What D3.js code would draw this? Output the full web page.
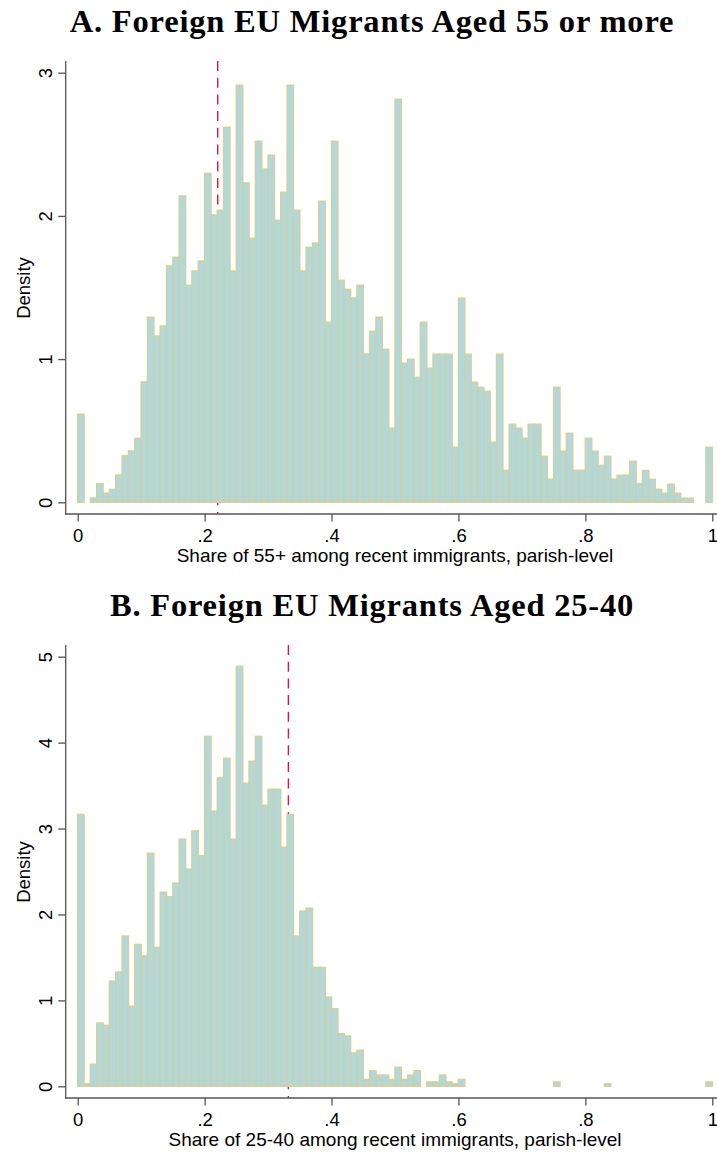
<!DOCTYPE html>
<html>
<head>
<meta charset="utf-8">
<script src="https://cdn.jsdelivr.net/npm/d3@7"></script>
<style>
  body { margin: 0; background: #ffffff; }
  svg { display: block; }
</style>
</head>
<body>
<div id="chart"></div>
<script>
// histogram densities, bins of width 0.01 from 0 to 1
var densityOld = [
  0.615, 0, 0.03, 0.13, 0.063, 0.09, 0.19, 0.325, 0.358, 0.447,
  0.84, 1.292, 1.161, 1.231, 1.65, 1.711, 2.139, 1.515, 1.615, 1.685,
  2.297, 2.006, 2.039, 2.619, 1.615, 2.912, 2.23, 1.843, 2.521, 2.327,
  2.423, 1.969, 2.165, 2.912, 2.039, 1.615, 1.78, 1.81, 2.102, 1.257,
  2.521, 1.55, 1.487, 1.427, 1.515, 1.036, 1.194, 1.292, 1.068, 0.517,
  2.814, 0.971, 0.999, 0.873, 1.257, 0.936, 1.034, 1.034, 1.034, 0.384,
  1.425, 1.034, 0.838, 0.803, 0.775, 0.419, 1.034, 0.223, 0.545, 0.517,
  0.447, 0.545, 0.545, 0.321, 0.161, 0.803, 0.356, 0.482, 0.223, 0.223,
  0.447, 0.356, 0.258, 0.321, 0.161, 0.189, 0.189, 0.286, 0.13, 0.222,
  0.16, 0.09, 0.063, 0.126, 0.063, 0.028, 0.028, 0, 0, 0.384
];
var densityYoung = [
  3.163, 0.03, 0.256, 0.736, 0.709, 1.224, 1.329, 1.748, 0.93, 1.651,
  1.519, 2.713, 1.616, 2.259, 2.205, 2.364, 2.876, 2.527, 2.972, 2.682,
  4.073, 3.201, 3.589, 3.817, 2.876, 4.887, 3.527, 3.783, 4.073, 3.271,
  3.457, 3.457, 2.783, 3.163, 1.748, 2.038, 2.073, 1.383, 1.383, 1.038,
  0.903, 0.612, 0.585, 0.387, 0.419, 0.08, 0.18, 0.13, 0.13, 0.08,
  0.22, 0.08, 0.13, 0.18, 0, 0.05, 0.05, 0.13, 0.05, 0.03,
  0.08, 0, 0, 0, 0, 0, 0, 0, 0, 0,
  0, 0, 0, 0, 0, 0.05, 0, 0, 0, 0,
  0, 0, 0, 0.03, 0, 0, 0, 0, 0, 0,
  0, 0, 0, 0, 0, 0, 0, 0, 0, 0.05
];
var binWidth = 0.01;

// dashed reference lines
var refOld = 0.2206;
var refYoung = 0.332;

var xTicks = [0, 0.2, 0.4, 0.6, 0.8, 1];
var xTickLabels = ['0', '.2', '.4', '.6', '.8', '1'];
var yTicksOld = [0, 1, 2, 3];
var yTicksYoung = [0, 1, 2, 3, 4, 5];

var titles = ['A. Foreign EU Migrants Aged 55 or more', 'B. Foreign EU Migrants Aged 25-40'];
var xTitles = ['Share of 55+ among recent immigrants, parish-level',
               'Share of 25-40 among recent immigrants, parish-level'];
var yTitle = 'Density';

var width = 717;
var height = 1152;
var panelShift = 584;

var fillColor = '#b0d8df';
var lineColor = '#d4cf9b';
var refColor = '#d0184a';
var axisColor = '#555555';
var sansFont = '"Liberation Sans", Arial, Helvetica, sans-serif';
var serifFont = '"Liberation Serif", "Times New Roman", serif';

var svg = d3.select('#chart')
  .append('svg')
  .attr('width', width)
  .attr('height', height)
  .style('background-color', '#ffffff');

// same x scale for both panels
var x = d3.scaleLinear().domain([0, 1]).range([77.7, 712.3]);

function drawPanel(offset, density, yMax, yTicks, refValue, title, xTitle) {
  var g = svg.append('g').attr('transform', 'translate(0,' + offset + ')');

  // 0 sits 12px above the axis line, like Stata's plot margin
  var y = d3.scaleLinear().domain([0, yMax]).range([502.3, 72.7]);

  // title
  g.append('text')
    .attr('x', 372)
    .attr('y', 31.7)
    .attr('text-anchor', 'middle')
    .style('font-family', serifFont)
    .style('font-weight', 'bold')
    .style('font-size', '32.5px')
    .style('letter-spacing', '0.8px')
    .style('fill', '#000')
    .text(title);

  // reference line goes under the bars
  g.append('line')
    .attr('x1', x(refValue)).attr('x2', x(refValue))
    .attr('y1', 61).attr('y2', 514)
    .attr('stroke', refColor)
    .attr('stroke-width', 1.4)
    .attr('stroke-dasharray', '10,6.7');

  var bins = density.map(function (d, i) { return { x0: i * binWidth, x1: (i + 1) * binWidth, value: d }; })
    .filter(function (d) { return d.value > 0; });

  g.selectAll('.bar')
    .data(bins)
    .enter().append('rect')
    .attr('class', 'bar')
    .attr('x', function (d) { return x(d.x0); })
    .attr('width', function (d) { return x(d.x1) - x(d.x0); })
    .attr('y', function (d) { return y(d.value); })
    .attr('height', function (d) { return y(0) - y(d.value); })
    .attr('fill', fillColor)
    .attr('stroke', lineColor)
    .attr('stroke-width', 1.5);

  // axis lines drawn by hand so they form the L of the plot region
  g.append('line')
    .attr('x1', 65.7).attr('x2', 65.7).attr('y1', 61).attr('y2', 514.6)
    .attr('stroke', axisColor).attr('stroke-width', 1.3);
  g.append('line')
    .attr('x1', 65).attr('x2', 717).attr('y1', 514).attr('y2', 514)
    .attr('stroke', axisColor).attr('stroke-width', 1.3);

  var xAxis = g.append('g')
    .attr('transform', 'translate(0,514)')
    .call(d3.axisBottom(x).tickValues(xTicks)
      .tickFormat(function (d, i) { return xTickLabels[i]; })
      .tickSize(7.5).tickSizeOuter(0));
  xAxis.select('.domain').remove();
  xAxis.selectAll('line').attr('stroke', axisColor).attr('stroke-width', 1.3);
  xAxis.selectAll('text')
    .attr('y', 28).attr('dy', 0)
    .style('font-family', sansFont)
    .style('font-size', '18.5px')
    .style('fill', '#000');

  var yAxis = g.append('g')
    .attr('transform', 'translate(65.7,0)')
    .call(d3.axisLeft(y).tickValues(yTicks)
      .tickFormat(d3.format('d'))
      .tickSize(7.5).tickSizeOuter(0));
  yAxis.select('.domain').remove();
  yAxis.selectAll('line').attr('stroke', axisColor).attr('stroke-width', 1.3);
  yAxis.selectAll('text')
    .attr('x', 0).attr('dy', 0)
    .attr('y', -13.7)
    .attr('transform', 'rotate(-90)')
    .attr('text-anchor', 'middle')
    .style('font-family', sansFont)
    .style('font-size', '18.5px')
    .style('fill', '#000');

  // axis titles
  g.append('text')
    .attr('x', 395)
    .attr('y', 562)
    .attr('text-anchor', 'middle')
    .style('font-family', sansFont)
    .style('font-size', '19px')
    .style('fill', '#000')
    .text(xTitle);

  g.append('text')
    .attr('transform', 'translate(30,288) rotate(-90)')
    .attr('text-anchor', 'middle')
    .style('font-family', sansFont)
    .style('font-size', '18.5px')
    .style('fill', '#000')
    .text(yTitle);
}

drawPanel(0, densityOld, 3, yTicksOld, refOld, titles[0], xTitles[0]);
drawPanel(panelShift, densityYoung, 5, yTicksYoung, refYoung, titles[1], xTitles[1]);
</script>
</body>
</html>
